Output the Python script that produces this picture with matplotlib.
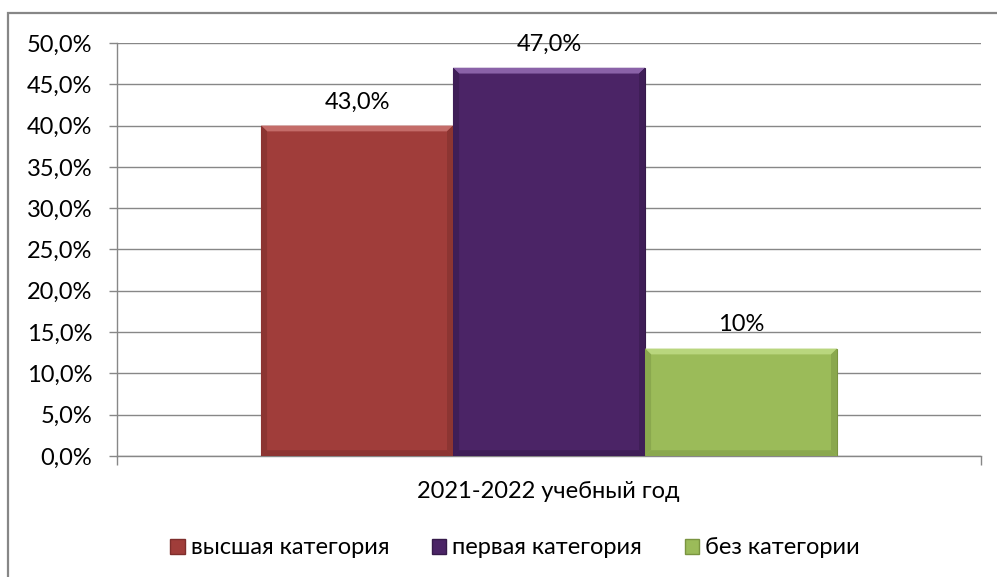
import matplotlib
matplotlib.use("Agg")
import matplotlib.pyplot as plt
from matplotlib.patches import Rectangle, Patch

plt.rcParams['font.family'] = ['Lato', 'DejaVu Sans']

categories = ["высшая категория", "первая категория", "без категории"]
heights = [40.0, 47.0, 13.0]
label_texts = ["43,0%", "47,0%", "10%"]
colors = ["#A03D3A", "#4B2466", "#9BBB59"]
edge_colors = ["#7E2E2C", "#361A4A", "#7A9440"]
top_colors = ["#C46C69", "#8A62A8", "#B9D67E"]
side_colors = ["#8C3532", "#3F1E57", "#8AA84E"]
xlabel = "2021-2022 учебный год"
yticks = [0, 5, 10, 15, 20, 25, 30, 35, 40, 45, 50]

fig = plt.figure(figsize=(9.97, 5.77), dpi=100)
ax = fig.add_axes([0.1174, 0.2097, 0.984 - 0.1174, 0.9255 - 0.2097])

# outer chart frame, runs off the right and bottom edges
fig.patches.append(Rectangle((8 / 997, -0.1), 1.2, 1 - 13 / 577 + 0.1,
                             transform=fig.transFigure, fill=False,
                             edgecolor="#878787", linewidth=1.6))

w = 2 / 9
xs = [0.5 - w, 0.5, 0.5 + w]
bars = ax.bar(xs, heights, width=w, color=colors, edgecolor=edge_colors,
              linewidth=0.8, zorder=3)

# bevel: lighter top, darker sides and bottom
bx, by = 0.007, 0.7
for b, tc, sc in zip(bars, top_colors, side_colors):
    x0, x1 = b.get_x(), b.get_x() + b.get_width()
    h = b.get_height()
    ax.fill([x0, x1, x1 - bx, x0 + bx], [h, h, h - by, h - by], color=tc, lw=0, zorder=4)
    ax.fill([x0, x0 + bx, x0 + bx, x0], [h, h - by, by, 0], color=sc, lw=0, zorder=4)
    ax.fill([x1, x1 - bx, x1 - bx, x1], [h, h - by, by, 0], color=sc, lw=0, zorder=4)
    ax.fill([x0, x1, x1 - bx, x0 + bx], [0, 0, by, by], color=sc, lw=0, zorder=4)

for x, h, t in zip(xs, heights, label_texts):
    ax.text(x, h + 1.6, t, ha="center", va="bottom", fontsize=17, color="black")

ax.set_xlim(0, 1)
ax.set_ylim(0, 50)
ax.set_yticks(yticks)
ax.yaxis.set_major_formatter(matplotlib.ticker.FuncFormatter(
    lambda v, p: ("%.1f%%" % v).replace(".", ",")))
ax.set_xticks([0, 1])
ax.set_xticklabels(["", ""])
ax.tick_params(axis="y", length=5.8, width=1, color="#878787", labelsize=17, pad=12)
ax.tick_params(axis="x", length=6.5, width=1, color="#878787")
ax.grid(axis="y", color="#878787", linewidth=1, zorder=0)
ax.set_axisbelow(True)
for s in ["top", "right"]:
    ax.spines[s].set_visible(False)
for s in ["left", "bottom"]:
    ax.spines[s].set_color("#878787")
    ax.spines[s].set_linewidth(1)

fig.text(548 / 997, 1 - 492 / 577, xlabel, ha="center", va="center", fontsize=17)

handles = [Patch(facecolor=c, edgecolor=e, label=l)
           for c, e, l in zip(colors, edge_colors, categories)]
fig.legend(handles=handles, loc="center", bbox_to_anchor=(515 / 997, 1 - 548 / 577),
           ncol=3, frameon=False, fontsize=17, handlelength=0.62, handleheight=0.62,
           handletextpad=0.25, columnspacing=1.8)

fig.savefig("out.png", dpi=100)
